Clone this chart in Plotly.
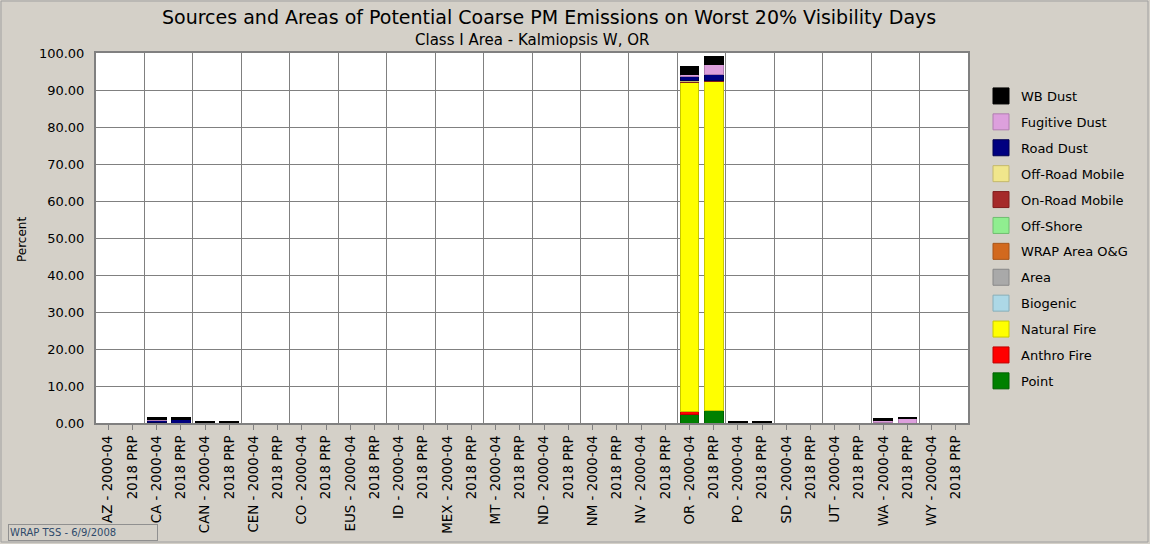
import plotly.graph_objects as go

# ---- data -------------------------------------------------------------
states = ["AZ", "CA", "CAN", "CEN", "CO", "EUS", "ID", "MEX", "MT", "ND",
          "NM", "NV", "OR", "PO", "SD", "UT", "WA", "WY"]
scenarios = ["2000-04", "2018 PRP"]

# category labels: first scenario carries the state name
tick_labels = []
for st in states:
    tick_labels.append(f"{st} - {scenarios[0]}")
    tick_labels.append(scenarios[1])

# source categories, bottom of the stack first
sources = ["Point", "Anthro Fire", "Natural Fire", "Biogenic", "Area",
           "WRAP Area O&G", "Off-Shore", "On-Road Mobile", "Off-Road Mobile",
           "Road Dust", "Fugitive Dust", "WB Dust"]

# percent contribution per (state, scenario); unlisted entries are zero
point         = {("OR", "2000-04"): 2.4, ("OR", "2018 PRP"): 3.3,
                 ("CA", "2000-04"): 0.1}
anthro_fire   = {("OR", "2000-04"): 0.8, ("OR", "2018 PRP"): 0.1}
natural_fire  = {("OR", "2000-04"): 88.7, ("OR", "2018 PRP"): 88.8}
biogenic      = {}
area          = {("OR", "2000-04"): 0.1, ("OR", "2018 PRP"): 0.1}
wrap_area_og  = {}
off_shore     = {("PO", "2000-04"): 0.1, ("PO", "2018 PRP"): 0.1}
on_road       = {("OR", "2000-04"): 0.3, ("OR", "2018 PRP"): 0.2}
off_road      = {("OR", "2000-04"): 0.2, ("OR", "2018 PRP"): 0.2}
road_dust     = {("OR", "2000-04"): 1.1, ("OR", "2018 PRP"): 1.6,
                 ("CA", "2000-04"): 0.6, ("CA", "2018 PRP"): 0.9,
                 ("CAN", "2000-04"): 0.1, ("CAN", "2018 PRP"): 0.1,
                 ("WA", "2000-04"): 0.1}
fugitive_dust = {("OR", "2000-04"): 0.5, ("OR", "2018 PRP"): 2.5,
                 ("CA", "2000-04"): 0.3, ("CA", "2018 PRP"): 0.1,
                 ("WA", "2000-04"): 0.5, ("WA", "2018 PRP"): 1.2}
wb_dust       = {("OR", "2000-04"): 2.2, ("OR", "2018 PRP"): 2.2,
                 ("CA", "2000-04"): 0.5, ("CA", "2018 PRP"): 0.5,
                 ("CAN", "2000-04"): 0.3, ("CAN", "2018 PRP"): 0.3,
                 ("PO", "2000-04"): 0.3, ("PO", "2018 PRP"): 0.3,
                 ("WA", "2000-04"): 0.5, ("WA", "2018 PRP"): 0.3}

source_values = [point, anthro_fire, natural_fire, biogenic, area, wrap_area_og,
                 off_shore, on_road, off_road, road_dust, fugitive_dust, wb_dust]

fill_colors = ["#008000", "#FF0000", "#FFFF00", "#ADD8E6", "#A9A9A9", "#D2691E",
               "#90EE90", "#A52A2A", "#F0E68C", "#000080", "#DDA0DD", "#000000"]
edge_colors = ["#006000", "#C00000", "#C8C800", "#88AEBA", "#888888", "#A85418",
               "#70BE70", "#801E1E", "#C4B86C", "#000050", "#B07CB0", "#000000"]

# ---- layout geometry (pixels) ----------------------------------------
W, H = 1150, 544
L, R, T, B = 96, 182, 53, 121
PW, PH = W - L - R, H - T - B


def px(x):
    return (x - L) / PW


def py(y):
    return (H - B - y) / PH


BG = "#D4D0C8"
GRID = "#808080"
TXT_FONT = "DejaVu Sans"

keys = [(st, sc) for st in states for sc in scenarios]
xpos = list(range(len(keys)))

fig = go.Figure()

# legend entries (top to bottom), each group also owns its bar trace
for name, fc, ec in reversed(list(zip(sources, fill_colors, edge_colors))):
    fig.add_trace(go.Scatter(
        x=[None], y=[None], mode="markers", name=name, legendgroup=name,
        marker=dict(symbol="square", size=16, color=fc,
                    line=dict(color=ec, width=1)),
        showlegend=True, hoverinfo="skip"))

# stacked bars, bottom source first
for name, vals, fc, ec in zip(sources, source_values, fill_colors, edge_colors):
    fig.add_trace(go.Bar(
        x=xpos, y=[vals.get(k, 0.0) for k in keys], name=name,
        legendgroup=name, showlegend=False, width=0.78,
        marker=dict(color=fc, line=dict(color=ec, width=1)),
        hovertemplate=name + ": %{y:.2f}%<extra></extra>"))

fig.update_layout(
    width=W, height=H, barmode="stack",
    paper_bgcolor=BG, plot_bgcolor="white",
    margin=dict(l=L, r=R, t=T, b=B, pad=0, autoexpand=False),
    font=dict(family=TXT_FONT, size=13, color="black"),
    showlegend=True,
    legend=dict(x=px(981), y=py(81), xanchor="left", yanchor="top",
                bgcolor="rgba(0,0,0,0)", borderwidth=0,
                traceorder="grouped", tracegroupgap=6,
                font=dict(family=TXT_FONT, size=13, color="black"),
                itemclick="toggle"),
    bargap=0.22,
)

fig.update_xaxes(
    range=[-0.5, len(keys) - 0.5], automargin=False,
    tickmode="array", tickvals=xpos, ticktext=tick_labels,
    tickangle=-90, ticks="outside", ticklen=5, tickcolor=GRID,
    tickfont=dict(family=TXT_FONT, size=13.4, color="black"),
    showgrid=False, zeroline=False,
    showline=True, linecolor=GRID, linewidth=2, mirror=True,
    minor=dict(tickmode="array",
               tickvals=[i + 1.5 for i in range(0, len(keys) - 2, 2)],
               showgrid=True, gridcolor=GRID, gridwidth=1, ticks=""),
)

fig.update_yaxes(
    range=[0, 100], dtick=10, tickformat=".2f", automargin=False,
    showgrid=True, gridcolor=GRID, gridwidth=1, zeroline=False,
    showline=True, linecolor=GRID, linewidth=2, mirror=True,
    ticks="", ticklabelstandoff=7,
    tickfont=dict(family=TXT_FONT, size=13, color="black"),
)

annotations = [
    dict(text="Sources and Areas of Potential Coarse PM Emissions on Worst 20% Visibility Days",
         x=px(549), y=py(17), font=dict(family=TXT_FONT, size=19, color="black")),
    dict(text="Class I Area - Kalmiopsis W, OR",
         x=px(532), y=py(40), font=dict(family=TXT_FONT, size=15, color="black")),
    dict(text="Percent", x=px(22), y=py(240), textangle=-90,
         font=dict(family=TXT_FONT, size=12, color="black")),
]
for a in annotations:
    a.update(xref="paper", yref="paper", xanchor="center", yanchor="middle",
             showarrow=False)
fig.update_layout(annotations=annotations)

fig.add_annotation(
    text="WRAP TSS - 6/9/2008", xref="paper", yref="paper",
    x=px(8), y=py(541), xanchor="left", yanchor="bottom", showarrow=False,
    width=146, height=13, align="left",
    font=dict(family=TXT_FONT, size=10, color="#2F4A6A"),
    bgcolor=BG, bordercolor="#909090", borderwidth=1, borderpad=1)

# outer frame of the chart
fig.add_shape(type="rect", xref="paper", yref="paper",
              x0=px(1), x1=px(W - 2), y0=py(H - 2), y1=py(1),
              line=dict(color="#A0A0A0", width=1), layer="below")

fig.write_html("out.html")
